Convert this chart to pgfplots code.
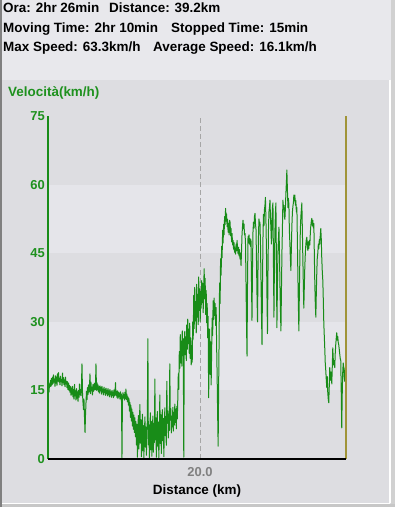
\documentclass[border=0pt]{standalone}
\usepackage{pgfplots}
\pgfplotsset{compat=1.18}
\usepackage{fontspec}
\setmainfont{Liberation Sans}
\definecolor{bgdark}{RGB}{221,221,225}
\definecolor{bglight}{RGB}{229,229,234}
\definecolor{hdr}{RGB}{232,232,236}
\definecolor{lgreen}{RGB}{24,140,24}
\definecolor{tgreen}{RGB}{30,145,30}
\definecolor{olive}{RGB}{160,148,56}
\pgfplotstableread{
km speed
0.00 15.2
0.07 16.8
0.13 14.6
0.20 16.4
0.26 15.8
0.33 17.2
0.39 15.9
0.46 17.6
0.53 16.2
0.59 17.9
0.66 16.5
0.72 18.4
0.79 16.8
0.86 17.5
0.92 15.9
0.99 18.2
1.05 16.6
1.12 17.9
1.18 16.1
1.25 18.6
1.32 17.0
1.38 18.9
1.45 16.8
1.51 17.6
1.58 16.2
1.64 18.1
1.71 16.9
1.78 17.4
1.84 16.0
1.91 18.8
1.97 16.7
2.04 17.8
2.10 16.3
2.17 17.3
2.24 15.8
2.30 17.9
2.37 16.4
2.43 17.0
2.50 15.6
2.56 16.9
2.63 15.2
2.70 16.6
2.76 15.0
2.83 16.1
2.89 14.6
2.96 15.8
3.03 13.9
3.09 15.5
3.16 14.2
3.22 15.9
3.29 13.6
3.36 15.2
3.42 13.1
3.49 16.3
3.55 13.8
3.62 14.9
3.68 12.9
3.75 15.4
3.82 13.3
3.88 14.7
3.95 12.6
4.01 15.0
4.08 13.5
4.14 16.4
4.21 14.1
4.27 15.2
4.34 13.8
4.40 15.9
4.47 20.8
4.54 14.2
4.60 12.5
4.67 10.8
4.73 13.1
4.80 9.2
4.87 5.8
4.93 9.5
5.00 12.4
5.06 14.8
5.13 13.0
5.19 15.6
5.26 14.1
5.33 16.2
5.39 14.6
5.46 15.9
5.52 18.6
5.59 14.3
5.65 16.8
5.72 14.9
5.79 15.7
5.85 14.0
5.92 16.3
5.98 14.8
6.05 15.2
6.11 16.6
6.18 15.1
6.25 16.0
6.31 20.8
6.38 15.0
6.44 16.7
6.51 15.1
6.58 16.2
6.64 14.7
6.71 15.8
6.77 14.4
6.84 16.0
6.91 14.9
6.97 15.6
7.04 14.2
7.10 15.9
7.17 14.6
7.23 15.3
7.30 14.0
7.37 15.7
7.43 14.5
7.50 15.2
7.56 13.9
7.63 15.5
7.69 14.3
7.76 15.0
7.83 13.8
7.89 15.4
7.96 14.1
8.02 14.9
8.09 13.6
8.15 15.2
8.22 14.0
8.29 14.7
8.35 13.5
8.42 15.0
8.48 13.9
8.55 14.6
8.61 13.4
8.68 15.1
8.74 13.8
8.81 14.5
8.88 16.7
8.94 13.9
9.01 14.8
9.07 13.5
9.14 14.9
9.20 13.2
9.27 14.6
9.33 13.6
9.40 14.4
9.47 13.1
9.53 14.7
9.60 13.4
9.66 14.2
9.73 0.3
9.79 13.0
9.86 14.5
9.93 13.3
9.99 14.1
10.06 12.9
10.12 14.6
10.19 13.2
10.25 15.3
10.32 13.0
10.38 14.2
10.45 12.5
10.52 13.6
10.58 11.8
10.65 13.2
10.71 10.5
10.78 12.4
10.84 9.1
10.91 11.7
10.97 8.3
11.04 10.9
11.10 7.2
11.17 10.2
11.24 6.5
11.30 9.6
11.37 5.8
11.43 9.0
11.50 4.9
11.56 8.2
11.63 3.1
11.70 7.6
11.76 0.4
11.83 6.8
11.89 9.5
11.96 2.2
12.02 7.9
12.09 11.9
12.16 3.5
12.22 8.6
12.29 0.5
12.35 6.1
12.42 9.8
12.48 1.8
12.55 7.3
12.61 0.3
12.68 5.4
12.75 9.2
12.81 2.6
12.88 7.0
12.94 0.8
13.01 5.9
13.07 8.4
13.14 26.3
13.20 3.1
13.27 7.5
13.34 0.2
13.40 6.4
13.47 10.1
13.53 2.0
13.60 8.2
13.66 0.6
13.73 5.3
13.79 9.4
13.86 1.5
13.93 7.8
13.99 3.6
14.06 17.5
14.12 4.2
14.19 9.0
14.25 0.4
14.32 6.6
14.38 10.4
14.45 2.8
14.52 8.1
14.58 0.3
14.65 6.0
14.71 14.0
14.78 3.4
14.84 9.7
14.91 1.2
14.97 7.4
15.04 10.8
15.11 4.0
15.17 8.9
15.24 0.5
15.30 6.7
15.37 11.2
15.43 5.1
15.50 9.3
15.56 3.0
15.63 17.0
15.70 7.8
15.76 10.5
15.83 4.6
15.89 9.8
15.96 6.2
16.02 20.8
16.09 8.5
16.15 11.0
16.22 5.7
16.29 9.4
16.35 7.0
16.42 11.3
16.48 6.1
16.55 10.2
16.61 7.4
16.68 12.0
16.74 8.0
16.81 10.9
16.88 6.6
16.94 11.5
17.01 8.8
17.07 13.0
17.14 18.6
17.20 15.2
17.27 23.5
17.33 19.8
17.40 27.2
17.46 21.0
17.53 25.8
17.60 20.3
17.66 28.0
17.73 22.6
17.79 26.4
17.86 0.4
17.92 24.1
17.99 27.9
18.05 22.8
18.12 26.7
18.19 21.5
18.25 29.3
18.32 24.0
18.38 30.6
18.45 25.2
18.51 28.4
18.58 23.1
18.64 29.7
18.71 22.0
18.78 26.5
18.84 20.6
18.91 24.8
18.97 21.2
19.04 30.0
19.10 26.2
19.17 35.8
19.23 28.5
19.30 37.5
19.37 30.2
19.43 34.4
19.50 27.6
19.56 38.2
19.63 31.0
19.69 36.0
19.76 29.4
19.82 39.8
19.89 32.5
19.96 37.2
20.02 30.1
20.09 36.6
20.15 33.0
20.22 39.0
20.28 34.2
20.35 38.4
20.41 32.0
20.48 37.1
20.54 41.6
20.61 35.0
20.67 39.5
20.74 31.6
20.81 36.8
20.87 29.8
20.94 34.0
21.00 26.5
21.07 31.2
21.13 13.4
21.20 22.0
21.26 28.4
21.33 18.5
21.40 25.6
21.46 16.2
21.53 24.0
21.59 30.8
21.66 27.0
21.72 34.6
21.79 30.5
21.85 35.2
21.92 31.4
21.99 34.0
22.05 29.2
22.12 33.1
22.18 25.0
22.25 18.0
22.31 10.4
22.38 2.8
22.44 14.5
22.51 27.0
22.57 38.5
22.64 34.0
22.70 43.8
22.77 40.2
22.84 46.5
22.90 44.0
22.97 50.0
23.03 47.2
23.10 51.3
23.16 49.0
23.23 53.0
23.29 51.2
23.36 54.8
23.43 52.0
23.49 53.6
23.56 50.8
23.62 52.4
23.69 49.6
23.75 51.5
23.82 49.0
23.88 52.2
23.95 51.8
24.02 48.8
24.08 50.4
24.15 47.5
24.21 49.3
24.28 46.8
24.34 47.8
24.41 45.9
24.47 47.3
24.54 45.2
24.60 46.1
24.67 44.8
24.74 47.0
24.80 45.5
24.87 47.8
24.93 46.0
25.00 44.9
25.06 46.3
25.13 44.4
25.19 45.8
25.26 43.7
25.33 45.0
25.39 42.3
25.46 45.6
25.52 49.0
25.59 51.0
25.65 52.2
25.72 50.3
25.78 51.4
25.85 49.0
25.92 49.3
25.98 47.0
26.05 38.0
26.11 30.0
26.18 22.5
26.24 38.0
26.31 48.6
26.37 47.2
26.44 49.0
26.51 47.0
26.57 48.2
26.64 46.5
26.70 47.9
26.77 38.5
26.83 30.3
26.90 42.0
26.96 49.5
27.03 51.8
27.10 50.5
27.16 53.0
27.23 53.7
27.29 51.5
27.36 50.2
27.42 44.0
27.49 36.0
27.56 30.0
27.62 41.0
27.69 49.0
27.75 52.5
27.82 51.0
27.88 51.8
27.95 47.0
28.01 40.0
28.08 32.0
28.15 25.0
28.21 38.0
28.28 48.5
28.34 53.5
28.41 51.0
28.47 54.5
28.54 55.5
28.60 57.2
28.67 52.0
28.74 45.0
28.80 36.0
28.87 27.4
28.93 40.0
29.00 50.0
29.06 54.0
29.13 55.0
29.20 56.6
29.26 53.0
29.33 50.0
29.39 47.0
29.46 52.0
29.52 55.0
29.59 56.0
29.65 44.0
29.72 31.0
29.78 42.0
29.85 50.0
29.92 54.0
29.98 56.0
30.05 42.0
30.11 28.7
30.18 38.0
30.24 45.0
30.31 48.0
30.38 50.7
30.44 46.0
30.51 38.0
30.57 33.0
30.64 28.0
30.70 36.0
30.77 45.0
30.83 50.0
30.90 56.6
30.97 54.5
31.03 55.5
31.10 53.0
31.16 52.4
31.23 55.0
31.29 58.0
31.36 60.5
31.42 63.2
31.49 59.0
31.56 55.0
31.62 57.0
31.69 55.6
31.75 50.0
31.82 47.0
31.88 44.0
31.95 41.2
32.01 46.0
32.08 51.0
32.15 54.0
32.21 55.2
32.28 56.0
32.34 57.7
32.41 56.5
32.47 57.7
32.54 55.5
32.60 56.5
32.67 54.0
32.74 55.0
32.80 48.0
32.87 40.0
32.93 34.0
33.00 28.0
33.06 36.0
33.13 44.0
33.19 50.0
33.26 53.0
33.33 54.5
33.39 56.0
33.46 50.0
33.52 44.0
33.59 38.0
33.65 33.0
33.72 38.0
33.78 42.0
33.85 45.0
33.92 47.0
33.98 48.0
34.05 48.5
34.11 46.5
34.18 45.6
34.24 47.5
34.31 46.0
34.37 47.8
34.44 46.8
34.51 49.5
34.57 51.0
34.64 52.0
34.70 52.6
34.77 51.0
34.83 52.2
34.90 50.5
34.97 51.5
35.03 45.0
35.10 38.0
35.16 34.0
35.23 31.0
35.29 36.0
35.36 41.0
35.42 44.0
35.49 45.0
35.56 47.0
35.62 46.0
35.69 48.0
35.75 47.0
35.82 49.0
35.88 50.4
35.95 48.0
36.01 44.0
36.08 41.0
36.15 39.0
36.21 35.0
36.28 29.6
36.34 27.0
36.41 24.0
36.47 21.0
36.54 19.3
36.60 17.5
36.67 15.6
36.74 18.0
36.80 14.5
36.87 13.0
36.93 12.3
37.00 16.0
37.06 20.0
37.13 18.5
37.19 17.2
37.26 19.0
37.33 16.4
37.39 20.0
37.46 24.3
37.52 22.0
37.59 20.5
37.65 21.5
37.72 20.0
37.78 23.0
37.85 25.0
37.92 26.5
37.98 27.6
38.05 26.0
38.11 26.8
38.18 25.5
38.24 25.0
38.31 24.0
38.37 23.0
38.44 22.0
38.51 21.5
38.57 15.0
38.64 6.8
38.70 14.0
38.77 19.0
38.83 21.0
38.90 20.0
38.96 18.0
39.03 17.0
39.10 19.5
39.16 20.5
}\speeddata
\begin{document}
\begin{tikzpicture}[x=1bp,y=1bp]
\fill[bgdark] (0,0) rectangle (395,507);
\fill[hdr] (0,427) rectangle (395,507);
\fill[black!18] (391,0) rectangle (395,507);
\fill[black!22] (0,0) rectangle (395,3);
\draw[white, line width=1.2bp] (390,3.5) -- (390,427);
\draw[white, line width=1.2bp] (2,3.5) -- (390,3.5);
\draw[black!50, line width=1.6bp] (1,0) -- (1,507);
\begin{axis}[
  at={(48bp,48bp)}, anchor=south west,
  scale only axis, width=298bp, height=343bp,
  xmin=0, xmax=39.2, ymin=0, ymax=75,
  clip=false,
  axis line style={draw=none},
  tick style={draw=none},
  major tick length=0pt,
  ytick={0,15,30,45,60,75},
  xtick={20}, xticklabels={20.0},
  /pgf/number format/assume math mode=true,
  yticklabel style={font=\fontsize{13}{14}\selectfont\bfseries, text=tgreen, anchor=east, inner sep=0pt, xshift=-3bp},
  xticklabel style={font=\fontsize{13}{14}\selectfont\bfseries, text=black!50, anchor=north, inner sep=0pt, yshift=-8bp},
]
\fill[bglight] (axis cs:0,45) rectangle (axis cs:39.2,60);
\fill[bglight] (axis cs:0,15) rectangle (axis cs:39.2,30);
\draw[black!35, line width=0.8bp, dash pattern=on 5bp off 3bp] (axis cs:20,0) -- (axis cs:20,75);
\addplot[lgreen, line width=1bp, line join=round] table[x=km, y=speed] {\speeddata};
\draw[lgreen, line width=2bp] (axis cs:0,0) -- (axis cs:0,75);
\draw[olive, line width=2bp] (axis cs:39.2,0) -- (axis cs:39.2,75);
\draw[black, line width=2bp] (axis cs:0,0) -- (axis cs:39.2,0);
\end{axis}
\begin{scope}[every node/.style={inner sep=0pt, anchor=base west, font=\fontsize{13.5}{15}\selectfont\bfseries}]
\node at (3,494) {Ora: 2hr 26min};
\node at (109,494) {Distance: 39.2km};
\node at (3,474) {Moving Time: 2hr 10min};
\node at (171,474) {Stopped Time: 15min};
\node at (3,455) {Max Speed: 63.3km/h};
\node at (153,455) {Average Speed: 16.1km/h};
\node[text=tgreen] at (8,410) {Velocità(km/h)};
\node[anchor=base] at (197,12) {Distance (km)};
\end{scope}
\pgfresetboundingbox
\path (0,0) rectangle (395,507);
\end{tikzpicture}
\end{document}
